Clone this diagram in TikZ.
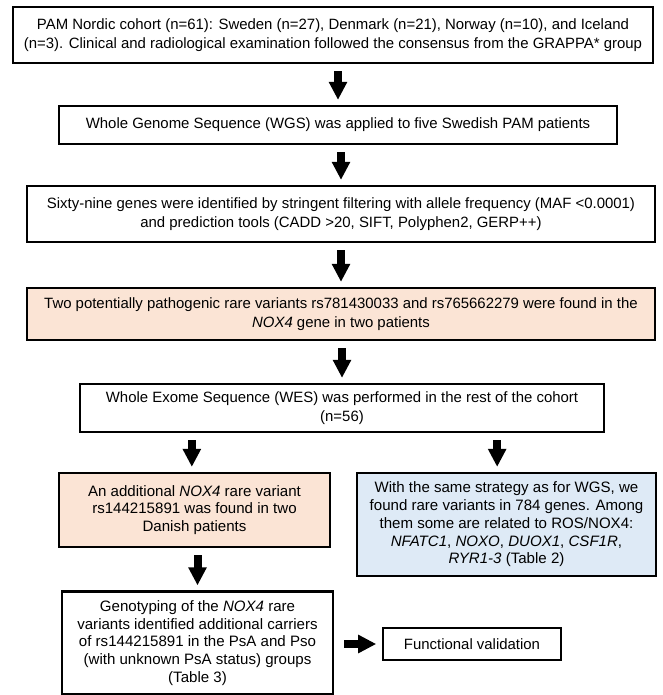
\documentclass[tikz,border=0pt]{standalone}
\usepackage{fontspec}
\setmainfont{Liberation Sans}
\usetikzlibrary{arrows.meta}

\definecolor{peach}{HTML}{FBE4D5}
\definecolor{paleblue}{HTML}{DEEAF6}

\tikzset{
  stepbox/.style={draw, line width=2.2pt, align=center, inner sep=0pt,
    font=\fontsize{11.2pt}{14.25pt}\selectfont},
  tightbox/.style={stepbox, font=\fontsize{11.3pt}{13.3pt}\selectfont},
  bigarrow/.style={line width=6pt, -{Triangle[width=13pt,length=13.5pt]},
    shorten <=5pt, shorten >=3.5pt}
}

\begin{document}
\begin{tikzpicture}[x=0.75pt, y=-0.75pt]
% Page size
\useasboundingbox (0, 0) rectangle (662, 695);

% Main column of steps
\node[stepbox, minimum width=480pt, minimum height=42pt] (cohort) at (333, 35)
  {PAM Nordic cohort (n=61): Sweden (n=27), Denmark (n=21), Norway (n=10), and Iceland\\
   (n=3). Clinical and radiological examination followed the consensus from the GRAPPA* group};
\node[stepbox, minimum width=418.5pt, minimum height=28.5pt] (wgs) at (338, 125)
  {Whole Genome Sequence (WGS) was applied to five Swedish PAM patients};
\node[stepbox, minimum width=471pt, minimum height=42pt] (filter) at (341, 214)
  {Sixty-nine genes were identified by stringent filtering with allele frequency (MAF <0.0001)\\
   and prediction tools (CADD >20, SIFT, Polyphen2, GERP++)};
\node[stepbox, fill=peach, minimum width=471pt, minimum height=39pt] (twovar) at (341, 314)
  {Two potentially pathogenic rare variants rs781430033 and rs765662279 were found in the\\
   \textit{NOX4} gene in two patients};
\node[stepbox, minimum width=393pt, minimum height=36pt] (wes) at (342, 408)
  {Whole Exome Sequence (WES) was performed in the rest of the cohort\\
   (n=56)};

% Two branches after WES
\node[tightbox, fill=peach, minimum width=203.25pt, minimum height=55.5pt] (danish) at (194.5, 510)
  {An additional \textit{NOX4} rare variant\\
   rs144215891 was found in two\\
   Danish patients};
\node[tightbox, fill=paleblue, minimum width=224.25pt, minimum height=77.25pt] (ros) at (506.5, 524.5)
  {With the same strategy as for WGS, we\\
   found rare variants in 784 genes. Among\\
   them some are related to ROS/NOX4:\\
   \textit{NFATC1}, \textit{NOXO}, \textit{DUOX1}, \textit{CSF1R},\\
   \textit{RYR1-3} (Table 2)};
\node[tightbox, minimum width=203.25pt, minimum height=77.25pt] (geno) at (197.5, 643)
  {Genotyping of the \textit{NOX4} rare\\
   variants identified additional carriers\\
   of rs144215891 in the PsA and Pso\\
   (with unknown PsA status) groups\\
   (Table 3)};
\node[stepbox, minimum width=133.5pt, minimum height=24pt] (func) at (472, 644)
  {Functional validation};

% Arrows
\draw[bigarrow] (wgs.north |- cohort.south) -- (wgs.north);
\draw[bigarrow] (filter.north |- wgs.south) -- (filter.north);
\draw[bigarrow] (twovar.north |- filter.south) -- (twovar.north);
\draw[bigarrow] (wes.north |- twovar.south) -- (wes.north);
\draw[bigarrow] ([xshift=-2pt]danish.north |- wes.south) -- ([xshift=-2pt]danish.north);
\draw[bigarrow] ([xshift=-7pt]ros.north |- wes.south) -- ([xshift=-7pt]ros.north);
\draw[bigarrow] (geno.north |- danish.south) -- (geno.north);
\draw[bigarrow, shorten <=7.5pt, shorten >=4pt] (geno.east |- func.west) -- (func.west);
\end{tikzpicture}
\end{document}
